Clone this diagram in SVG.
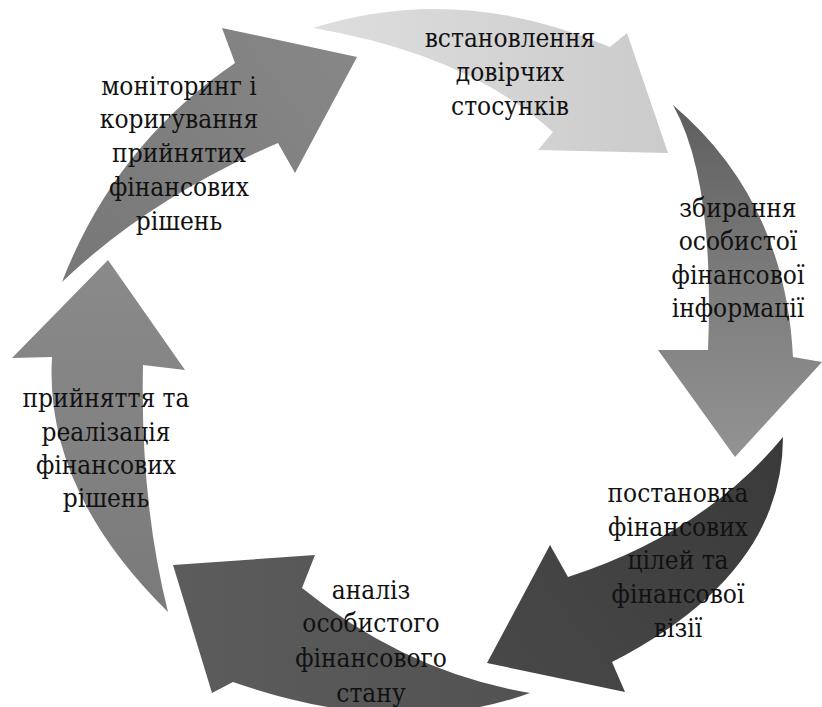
<svg xmlns="http://www.w3.org/2000/svg" width="822" height="707" viewBox="0 0 822 707">
  <defs>
    <linearGradient id="g-light" x1="313" y1="0" x2="668" y2="0" gradientUnits="userSpaceOnUse">
      <stop offset="0" stop-color="#dedede"/>
      <stop offset="1" stop-color="#cbcbcb"/>
    </linearGradient>
    <linearGradient id="g-right" x1="0" y1="105" x2="0" y2="457" gradientUnits="userSpaceOnUse">
      <stop offset="0" stop-color="#5e5e5e"/>
      <stop offset="0.5" stop-color="#7c7c7c"/>
      <stop offset="1" stop-color="#939393"/>
    </linearGradient>
    <linearGradient id="g-dark" x1="783" y1="437" x2="487" y2="663" gradientUnits="userSpaceOnUse">
      <stop offset="0" stop-color="#3a3a3a"/>
      <stop offset="1" stop-color="#484848"/>
    </linearGradient>
    <linearGradient id="g-bottom" x1="530" y1="0" x2="173" y2="0" gradientUnits="userSpaceOnUse">
      <stop offset="0" stop-color="#525252"/>
      <stop offset="1" stop-color="#5c5c5c"/>
    </linearGradient>
    <linearGradient id="g-left" x1="0" y1="612" x2="0" y2="260" gradientUnits="userSpaceOnUse">
      <stop offset="0" stop-color="#7a7a7a"/>
      <stop offset="1" stop-color="#8a8a8a"/>
    </linearGradient>
    <linearGradient id="g-topleft" x1="62" y1="282" x2="357" y2="57" gradientUnits="userSpaceOnUse">
      <stop offset="0" stop-color="#777777"/>
      <stop offset="1" stop-color="#878787"/>
    </linearGradient>
  </defs>
  <style>
    text { font-family: 'DejaVu Serif Condensed', 'DejaVu Serif', serif; font-size: 26px; fill: #111111; text-anchor: middle; }
  </style>

  <rect width="822" height="707" fill="#ffffff"/>

  <g id="connectors"/>

  <!-- step: establishing trust -->
  <g id="step-trust">
    <path d="M 313,28 Q 459,-18 610,47 L 627,33 L 668,153 L 538,150 L 553,132 Q 467,54 313,28 Z" fill="url(#g-light)"/>
    <text x="510" y="47">встановлення</text>
    <text x="510" y="81">довірчих</text>
    <text x="510" y="115">стосунків</text>
  </g>

  <!-- step: collecting personal financial info -->
  <g id="step-collect">
    <path d="M 673,105 Q 785,200 793,357 L 822,362 L 735,457 L 658,350 L 708,350 Q 715,180 673,105 Z" fill="url(#g-right)"/>
    <text x="738" y="217">збирання</text>
    <text x="738" y="250">особистої</text>
    <text x="738" y="284">фінансової</text>
    <text x="738" y="317">інформації</text>
  </g>

  <!-- step: setting goals and vision -->
  <g id="step-goals">
    <path d="M 783,437 Q 704,533 568,577 L 550,545 L 487,663 L 625,692 L 612,662 Q 783,574 783,437 Z" fill="url(#g-dark)"/>
    <text x="678" y="502">постановка</text>
    <text x="678" y="536">фінансових</text>
    <text x="678" y="569">цілей та</text>
    <text x="678" y="603">фінансової</text>
    <text x="678" y="637">візії</text>
  </g>

  <!-- step: analysing personal financial state -->
  <g id="step-analysis">
    <path d="M 530,693 Q 406,672 302,588 L 315,555 L 173,565 L 212,693 L 233,682 Q 400,740 530,693 Z" fill="url(#g-bottom)"/>
    <text x="371" y="599">аналіз</text>
    <text x="371" y="632">особистого</text>
    <text x="371" y="667">фінансового</text>
    <text x="371" y="702">стану</text>
  </g>

  <!-- step: making and implementing decisions -->
  <g id="step-decide">
    <path d="M 168,612 Q 44,490 52,357 L 12,358 L 108,260 L 185,370 L 143,365 Q 140,500 168,612 Z" fill="url(#g-left)"/>
    <text x="106" y="407">прийняття та</text>
    <text x="106" y="441">реалізація</text>
    <text x="106" y="474">фінансових</text>
    <text x="106" y="507">рішень</text>
  </g>

  <!-- step: monitoring and adjusting -->
  <g id="step-monitor">
    <path d="M 62,282 Q 115,145 235,63 L 222,28 L 357,57 L 295,173 L 278,143 Q 150,198 62,282 Z" fill="url(#g-topleft)"/>
    <text x="179" y="95">моніторинг і</text>
    <text x="179" y="128">коригування</text>
    <text x="179" y="162">прийнятих</text>
    <text x="179" y="196">фінансових</text>
    <text x="179" y="230">рішень</text>
  </g>
</svg>
